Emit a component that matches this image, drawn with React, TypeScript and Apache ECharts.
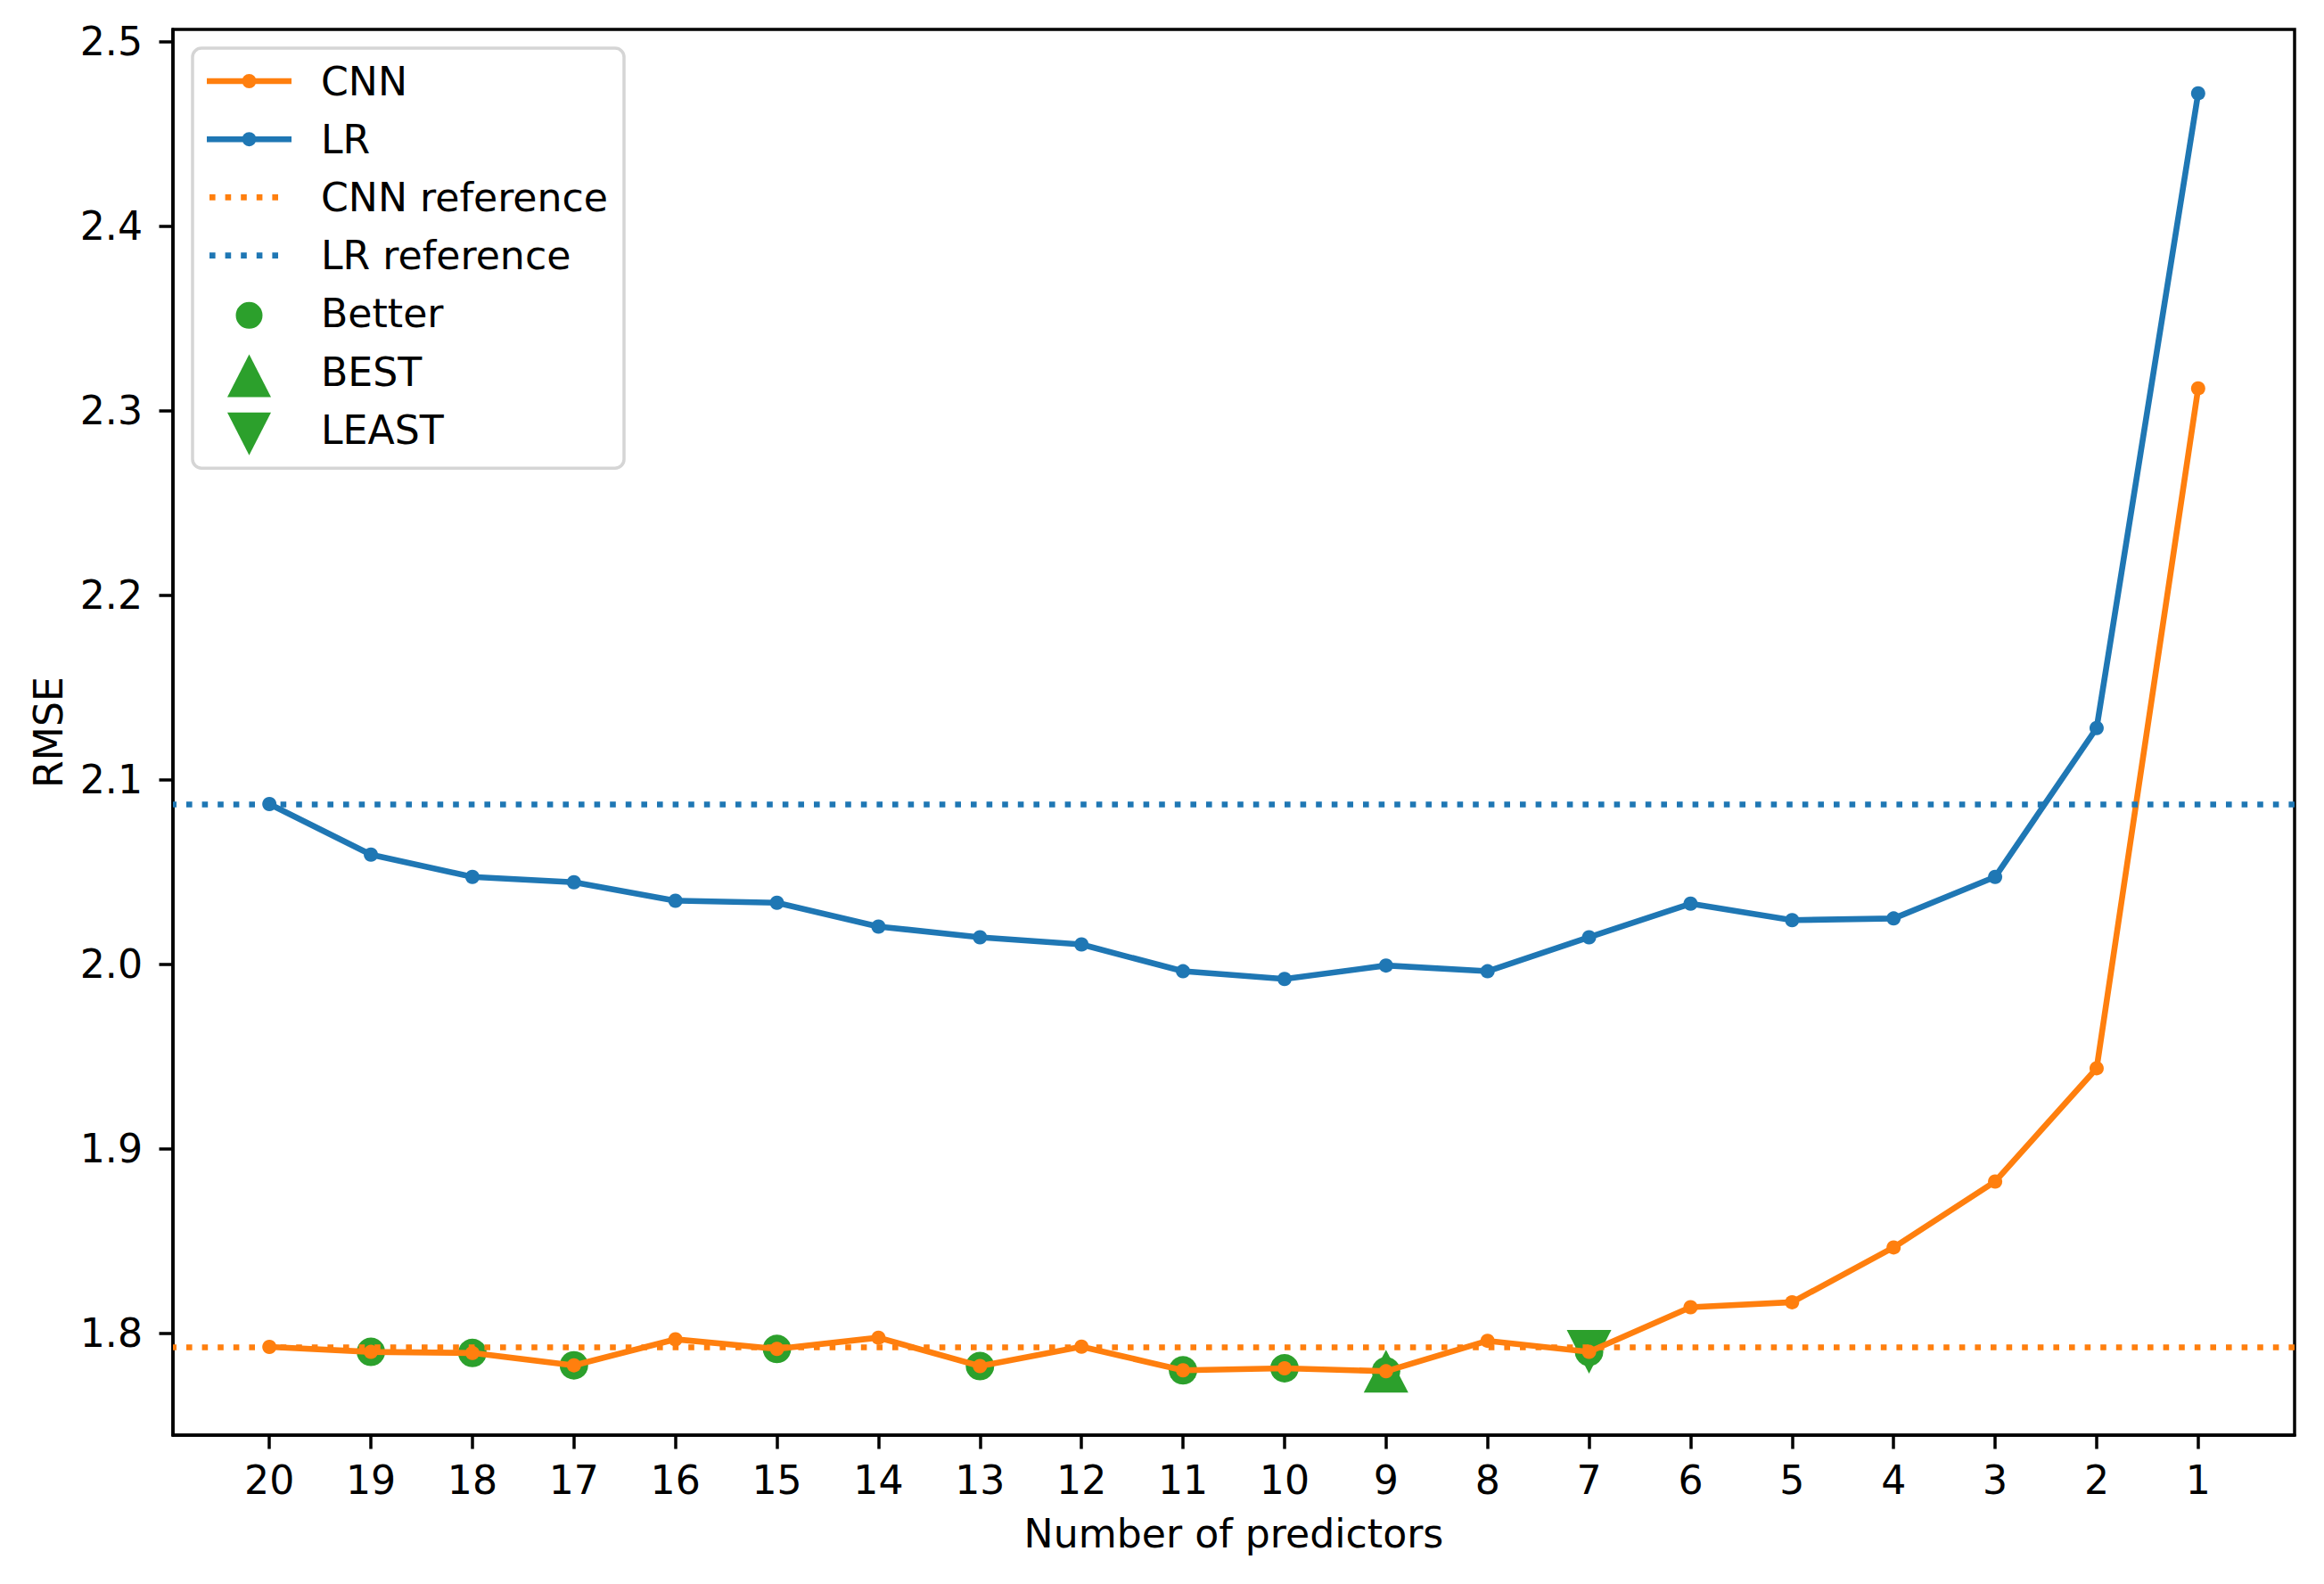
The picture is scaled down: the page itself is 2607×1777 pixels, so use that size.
import React, { useEffect, useRef } from "react";
import * as echarts from "echarts";

// ---- data ----
const predictors = [20, 19, 18, 17, 16, 15, 14, 13, 12, 11, 10, 9, 8, 7, 6, 5, 4, 3, 2, 1];
const cnnRmse = [
  1.7925, 1.7898, 1.7892, 1.7825, 1.7966, 1.7914, 1.7975, 1.7821, 1.7926, 1.7798,
  1.7809, 1.7793, 1.7958, 1.7898, 1.814, 1.8167, 1.8464, 1.8821, 1.9435, 2.312,
];
const lrRmse = [
  2.0867, 2.0593, 2.0472, 2.0443, 2.0343, 2.0332, 2.0203, 2.0145, 2.0106, 1.9961,
  1.9919, 1.9992, 1.9961, 2.0145, 2.0327, 2.0238, 2.0247, 2.0472, 2.1279, 2.4719,
];
const cnnReference = 1.7925;
const lrReference = 2.0868;
const betterPredictors = [19, 18, 17, 15, 13, 11, 10, 9, 7];
const bestPredictor = 9;
const leastPredictor = 7;
const yTicks = [1.8, 1.9, 2.0, 2.1, 2.2, 2.3, 2.4, 2.5];
const xTicks = predictors;

const ORANGE = "#ff7f0e";
const BLUE = "#1f77b4";
const GREEN = "#2ca02c";
const FONT = "DejaVu Sans";
const FS = 44.2;
const LW = 6.6;
const AXW = 3.5;
const TICK = 15.5;

function cnnAt(p: number): number {
  return cnnRmse[predictors.indexOf(p)];
}

// legend icons (box 123 x 60)
const IW = 123;
const IH = 60;
const frame = `M0,0M${IW},${IH}`;
const lineIcon = `path://${frame}M0,${30 - LW / 2}h95v${LW}h-95zM39.5,30a8,8 0 1,1 16,0a8,8 0 1,1 -16,0z`;
const dotIcon =
  `path://${frame}` +
  [0, 1, 2, 3, 4].map((k) => `M${3 + k * 17.6},${30 - LW / 2}h${LW}v${LW}h-${LW}z`).join("");
const circleIcon = `path://${frame}M32.5,32a15,15 0 1,1 30,0a15,15 0 1,1 -30,0z`;
const upIcon = `path://${frame}M47.5,10.5L72,58.5L23,58.5Z`;
const downIcon = `path://${frame}M23,10.5L72,10.5L47.5,58.5Z`;

export default function App() {
  const ref = useRef<HTMLDivElement>(null);
  useEffect(() => {
    document.body.style.margin = "0";
    if (!ref.current) return;
    const chart = echarts.init(ref.current, null, { renderer: "svg" });

    const allVals = [...cnnRmse, ...lrRmse, cnnReference, lrReference];
    const dMin = Math.min(...allVals);
    const dMax = Math.max(...allVals);
    const yPad = (dMax - dMin) * 0.05;
    const xMinV = Math.min(...predictors);
    const xMaxV = Math.max(...predictors);
    const xPad = (xMaxV - xMinV) * 0.05;

    const refLine = (value: number, color: string) => ({
      silent: true,
      precision: 6,
      symbol: ["none", "none"],
      label: { show: false },
      emphasis: { disabled: true },
      lineStyle: { color, width: LW, type: [LW, 11], cap: "butt" },
      data: [{ yAxis: value }],
    });

    chart.setOption({
      animation: false,
      backgroundColor: "#fff",
      textStyle: { fontFamily: FONT },
      grid: {
        left: 194,
        right: 33,
        top: 33,
        bottom: 167,
        containLabel: false,
        outerBoundsMode: "none",
        show: true,
        borderColor: "#000",
        borderWidth: AXW,
        backgroundColor: "transparent",
      },
      xAxis: {
        type: "value",
        inverse: true,
        min: xMinV - xPad,
        max: xMaxV + xPad,
        name: "Number of predictors",
        nameLocation: "middle",
        nameGap: 88,
        nameTextStyle: { fontFamily: FONT, fontSize: FS, color: "#000" },
        axisLine: { show: true, lineStyle: { color: "#000", width: AXW } },
        axisTick: {
          show: true,
          inside: false,
          length: TICK,
          customValues: xTicks,
          lineStyle: { color: "#000", width: AXW },
        },
        axisLabel: {
          show: true,
          margin: 28,
          customValues: xTicks,
          formatter: (v: number) => String(v),
          fontFamily: FONT,
          fontSize: FS,
          color: "#000",
        },
        splitLine: { show: false },
      },
      yAxis: {
        type: "value",
        min: dMin - yPad,
        max: dMax + yPad,
        name: "RMSE",
        nameLocation: "middle",
        nameGap: 118,
        nameTextStyle: { fontFamily: FONT, fontSize: FS, color: "#000" },
        axisLine: { show: true, lineStyle: { color: "#000", width: AXW } },
        axisTick: {
          show: true,
          inside: false,
          length: TICK,
          customValues: yTicks,
          lineStyle: { color: "#000", width: AXW },
        },
        axisLabel: {
          show: true,
          margin: 34,
          customValues: yTicks,
          formatter: (v: number) => v.toFixed(1),
          fontFamily: FONT,
          fontSize: FS,
          color: "#000",
        },
        splitLine: { show: false },
      },
      legend: {
        orient: "vertical",
        left: 216,
        top: 54,
        padding: [7, 18, 13, 16],
        itemGap: 5.2,
        itemWidth: IW,
        itemHeight: IH,
        selectedMode: false,
        backgroundColor: "#ffffff",
        borderColor: "#d5d5d5",
        borderWidth: AXW,
        borderRadius: 10,
        textStyle: { fontFamily: FONT, fontSize: FS, color: "#000" },
        itemStyle: { borderWidth: 0 },
        data: [
          { name: "CNN", icon: lineIcon },
          { name: "LR", icon: lineIcon },
          { name: "CNN reference", icon: dotIcon },
          { name: "LR reference", icon: dotIcon },
          { name: "Better", icon: circleIcon },
          { name: "BEST", icon: upIcon },
          { name: "LEAST", icon: downIcon },
        ],
      },
      series: [
        {
          name: "CNN",
          type: "line",
          z: 3,
          data: predictors.map((p, i) => [p, cnnRmse[i]]),
          symbol: "circle",
          symbolSize: 16,
          showAllSymbol: true,
          itemStyle: { color: ORANGE, borderWidth: 0 },
          lineStyle: { color: ORANGE, width: LW },
          emphasis: { disabled: true },
        },
        {
          name: "LR",
          type: "line",
          z: 3,
          data: predictors.map((p, i) => [p, lrRmse[i]]),
          symbol: "circle",
          symbolSize: 16,
          showAllSymbol: true,
          itemStyle: { color: BLUE, borderWidth: 0 },
          lineStyle: { color: BLUE, width: LW },
          emphasis: { disabled: true },
        },
        {
          name: "CNN reference",
          type: "line",
          z: 4,
          data: [],
          itemStyle: { color: ORANGE },
          lineStyle: { color: ORANGE, width: LW },
          markLine: refLine(cnnReference, ORANGE),
        },
        {
          name: "LR reference",
          type: "line",
          z: 4,
          data: [],
          itemStyle: { color: BLUE },
          lineStyle: { color: BLUE, width: LW },
          markLine: refLine(lrReference, BLUE),
        },
        {
          name: "Better",
          type: "scatter",
          z: 1,
          data: betterPredictors.map((p) => [p, cnnAt(p)]),
          symbol: "circle",
          symbolSize: 32,
          itemStyle: { color: GREEN, borderWidth: 0, opacity: 1 },
          emphasis: { disabled: true },
        },
        {
          name: "BEST",
          type: "scatter",
          z: 1,
          data: [[bestPredictor, cnnAt(bestPredictor)]],
          symbol: "triangle",
          symbolSize: [50, 48],
          itemStyle: { color: GREEN, borderWidth: 0, opacity: 1 },
          emphasis: { disabled: true },
        },
        {
          name: "LEAST",
          type: "scatter",
          z: 1,
          data: [[leastPredictor, cnnAt(leastPredictor)]],
          symbol: "path://M0,0L2,0L1,2Z",
          symbolSize: [50, 49],
          itemStyle: { color: GREEN, borderWidth: 0, opacity: 1 },
          emphasis: { disabled: true },
        },
      ],
    });
    return () => chart.dispose();
  }, []);
  return (
    <div
      ref={ref}
      style={{ position: "absolute", left: 0, top: 0, width: 2607, height: 1777 }}
    />
  );
}
